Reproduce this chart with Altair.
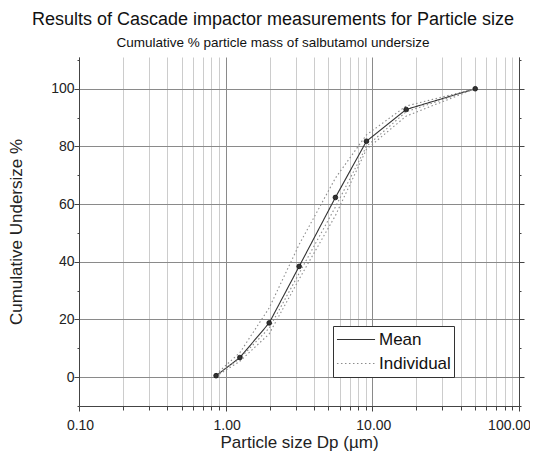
import altair as alt
import pandas as pd

sizes = [0.86, 1.25, 1.98, 3.17, 5.6, 9.12, 17.0, 50.3]
mean_cum = [0.5, 6.8, 18.8, 38.4, 62.3, 81.8, 92.8, 100.0]
ind_a = [1.0, 8.5, 24.0, 46.0, 69.0, 84.0, 94.0, 100.0]
ind_b = [0.3, 5.5, 15.0, 34.0, 56.0, 79.0, 90.5, 100.0]
ind_c = [0.5, 6.5, 17.0, 36.0, 59.0, 80.0, 92.0, 100.0]

rows = []
for run, vals, ser in [("mean", mean_cum, "Mean"), ("a", ind_a, "Individual"),
                       ("b", ind_b, "Individual"), ("c", ind_c, "Individual")]:
    for s, v in zip(sizes, vals):
        rows.append({"size": s, "cum": v, "series": ser, "run": run})
df = pd.DataFrame(rows)
mean_df = df[df.run == "mean"]

x_ticks = [m * 10 ** e for e in (-1, 0, 1) for m in range(1, 10)] + [100]
y_ticks = list(range(-10, 111, 10))
decades = "indexof([0.1,1,10,100], datum.value) >= 0"
ymajor = "datum.value % 20 == 0 && datum.value >= 0 && datum.value <= 100"

xscale = alt.Scale(type="log", domain=[0.1, 100], nice=False)
yscale = alt.Scale(domain=[-10, 111], nice=False, zero=False)

FONT = "Liberation Sans"

x_axis = alt.Axis(
    values=x_ticks, title="Particle size Dp (µm)",
    labelExpr=f"{decades} ? format(datum.value, '.2f') : ''",
    labelOffset={"condition": {"test": "datum.value >= 100", "value": -10}, "value": 1},
    gridColor={"condition": {"test": decades, "value": "#8a8a8a"}, "value": "#cccccc"},
    tickSize={"condition": {"test": decades, "value": 5}, "value": 4},
    labelFontSize=14, titleFontSize=17, labelFont=FONT, titleFont=FONT, titleFontWeight="normal",
    labelColor="#222", titleColor="#222", domainColor="#444", tickColor="#444",
    titlePadding=2, labelPadding=7, labelFlush=False,
)
y_axis = alt.Axis(
    values=y_ticks, title="Cumulative Undersize %",
    labelExpr=f"({ymajor}) ? datum.value : ''",
    gridOpacity={"condition": {"test": ymajor, "value": 1}, "value": 0},
    gridColor="#8a8a8a",
    tickSize={"condition": {"test": ymajor, "value": 5}, "value": 2},
    labelFontSize=14, titleFontSize=17, labelFont=FONT, titleFont=FONT, titleFontWeight="normal",
    labelColor="#222", titleColor="#222", domainColor="#444", tickColor="#444",
    titlePadding=25, labelPadding=0,
)

base = alt.Chart(df)

lines = base.mark_line(strokeWidth=1.1).encode(
    x=alt.X("size:Q", scale=xscale, axis=x_axis),
    y=alt.Y("cum:Q", scale=yscale, axis=y_axis),
    detail="run:N",
    color=alt.Color("series:N", scale=alt.Scale(domain=["Mean", "Individual"], range=["#333333", "#8c8c8c"]),
                    legend=alt.Legend(title=None, orient="none", legendX=254, legendY=269,
                                      symbolType="stroke", symbolSize=1450, symbolStrokeWidth=1.2,
                                      labelFontSize=17, labelFont=FONT, labelColor="#111",
                                      fillColor="white", strokeColor="#333", padding=3,
                                      rowPadding=3, labelOffset=3, clipHeight=21)),
    strokeDash=alt.StrokeDash("series:N", scale=alt.Scale(domain=["Mean", "Individual"], range=[[1, 0], [1.5, 2.5]]),
                              legend=None),
)

pts = alt.Chart(mean_df).mark_point(filled=True, size=22, color="#333", opacity=1, stroke="#111", strokeWidth=0.8).encode(
    x=alt.X("size:Q", scale=xscale),
    y=alt.Y("cum:Q", scale=yscale, axis=None),
)

right = alt.Chart(mean_df).mark_point(opacity=0).encode(
    x=alt.X("size:Q", scale=xscale),
    y=alt.Y("cum:Q", scale=yscale, axis=alt.Axis(orient="right", values=y_ticks, labels=False, grid=False,
                                                   title=None, domainColor="#444", tickColor="#444",
                                                   tickSize={"condition": {"test": ymajor, "value": 5}, "value": 2})),
)

chart = alt.layer(lines, right, pts).resolve_axis(y="independent").properties(
    width=440, height=349,
    autosize=alt.AutoSizeParams(type="none"),
    padding={"left": 71, "top": 49, "right": 11, "bottom": 47},
    title=alt.TitleParams(
        text="Results of Cascade impactor measurements for Particle size",
        subtitle="Cumulative % particle mass of salbutamol undersize",
        fontSize=18, subtitleFontSize=13.5, font=FONT, subtitleFont=FONT,
        fontWeight="normal", color="#111", subtitleColor="#111", anchor="middle", dx=-26,
        offset=8, subtitlePadding=7,
    ),
).configure_view(stroke=None)

chart.save("out.html", embed_options={"renderer": "svg", "actions": False})
